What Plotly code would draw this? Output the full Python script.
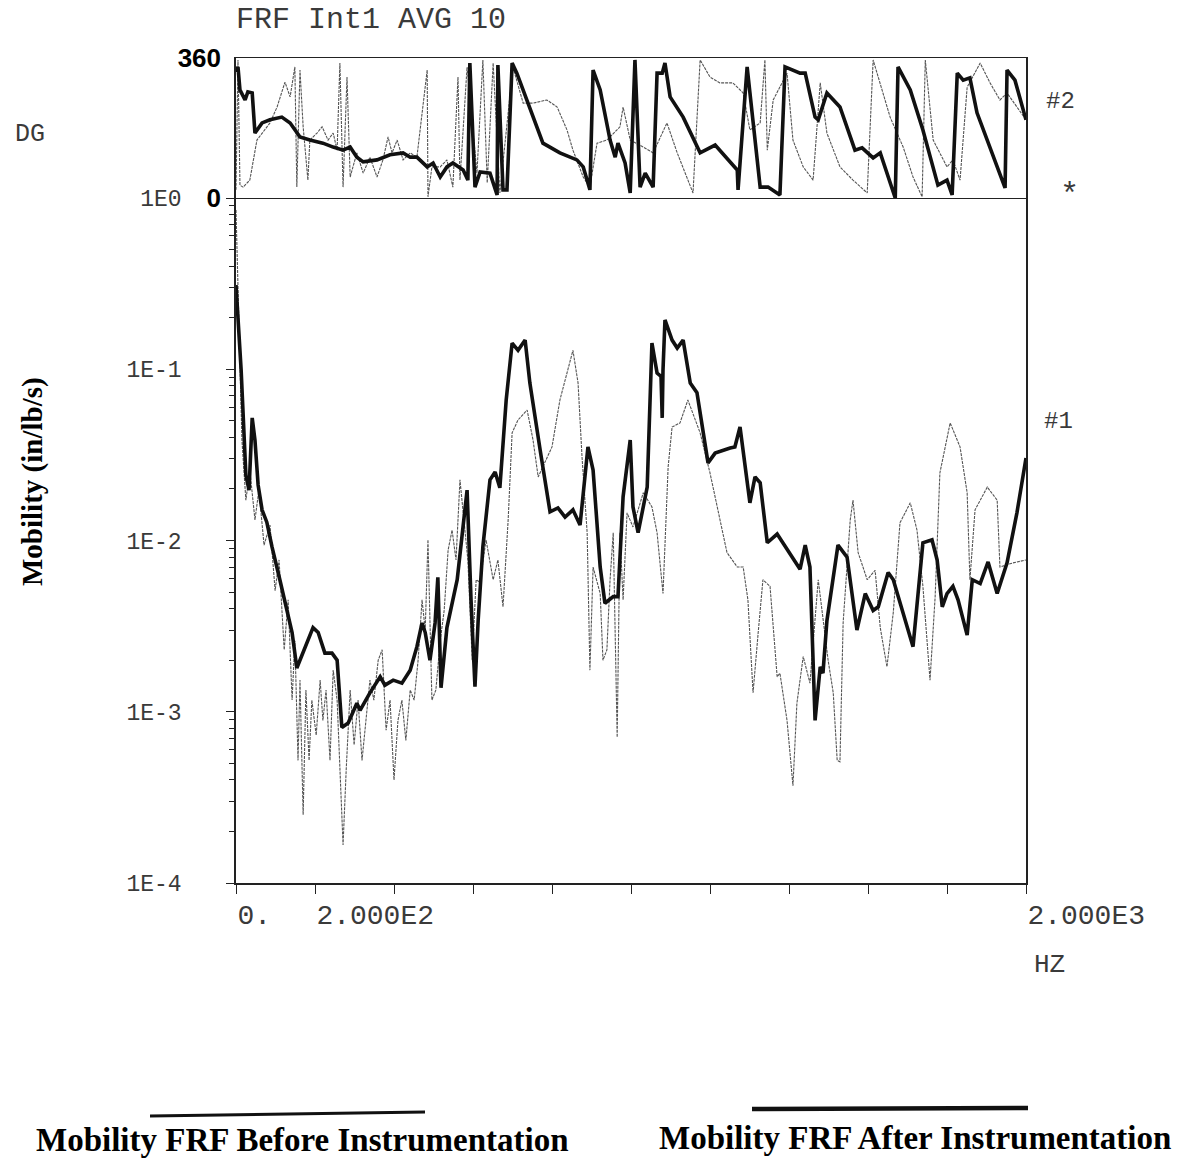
import plotly.graph_objects as go

# ---------------- data ----------------
# Magnitude, "After Instrumentation" (thick line)
after_mag_hz = [0, 13, 25, 33, 41, 48, 56, 66, 78, 91, 111, 129, 142, 154, 170, 195, 208, 225, 243, 256,
                268, 284, 306, 314, 339, 365, 377, 398, 420, 441, 458, 471, 479, 491, 504, 511, 519, 534, 560, 585,
                595, 605, 613, 625, 643, 656, 668, 684, 699, 714, 732, 744, 770, 795, 815, 833, 853, 871, 891, 904,
                922, 934, 955, 967, 980, 998, 1005, 1018, 1041, 1053, 1066, 1076, 1079, 1081, 1086, 1104, 1117, 1132, 1150, 1167,
                1195, 1213, 1251, 1263, 1276, 1301, 1314, 1327, 1345, 1370, 1428, 1441, 1453, 1466, 1479, 1486, 1496, 1524, 1547, 1572,
                1593, 1613, 1626, 1651, 1664, 1714, 1739, 1762, 1775, 1788, 1800, 1815, 1828, 1851, 1864, 1884, 1904, 1927, 1952, 1977,
                2000]
after_mag = [0.31, 0.099, 0.024, 0.0197, 0.052, 0.0386, 0.0211, 0.0151, 0.0128, 0.0092, 0.0059, 0.0038, 0.0029, 0.0018, 0.0022, 0.0031, 0.0029, 0.0022, 0.0022, 0.0020,
             0.00081, 0.00086, 0.00112, 0.00102, 0.00129, 0.0016, 0.00143, 0.00153, 0.00147, 0.00175, 0.0024, 0.0033, 0.0029, 0.0020, 0.0033, 0.0061, 0.00138, 0.0031, 0.0059, 0.0197,
             0.0045, 0.0014, 0.0034, 0.0092, 0.0226, 0.0251, 0.0203, 0.066, 0.142, 0.129, 0.148, 0.083, 0.0338, 0.0147, 0.0155, 0.0137, 0.0151, 0.0123, 0.0352, 0.0258,
             0.0070, 0.0043, 0.0047, 0.0047, 0.0180, 0.0386, 0.0157, 0.0111, 0.0205, 0.142, 0.095, 0.091, 0.052, 0.099, 0.194, 0.148, 0.133, 0.148, 0.083, 0.073,
             0.0284, 0.0324, 0.0347, 0.0352, 0.046, 0.0166, 0.0235, 0.0217, 0.0097, 0.0109, 0.0068, 0.0094, 0.0070, 0.00089, 0.00183, 0.00168, 0.0034, 0.0094, 0.0080, 0.0030,
             0.0049, 0.0039, 0.0041, 0.0065, 0.0059, 0.0024, 0.0097, 0.0101, 0.0077, 0.0041, 0.0049, 0.0054, 0.0045, 0.0028, 0.0059, 0.0056, 0.0075, 0.0049, 0.0074, 0.0145,
             0.0303]

# Magnitude, "Before Instrumentation" (thin line)
before_mag_hz = [0, 8, 15, 25, 35, 48, 58, 71, 86, 99, 109, 122, 132, 142, 149, 157, 162, 170, 177, 185,
                 192, 203, 213, 220, 228, 238, 246, 256, 263, 271, 279, 289, 299, 309, 319, 329, 339, 349, 360, 370,
                 380, 390, 400, 410, 420, 430, 441, 451, 461, 471, 479, 486, 496, 506, 517, 527, 537, 547, 557, 567,
                 577, 587, 598, 608, 618, 633, 651, 663, 676, 689, 699, 714, 737, 752, 765, 782, 800, 820, 841, 853,
                 866, 876, 889, 896, 904, 922, 929, 939, 947, 955, 965, 972, 980, 990, 1005, 1031, 1053, 1066, 1081, 1094,
                 1104, 1124, 1144, 1157, 1175, 1200, 1225, 1243, 1269, 1284, 1296, 1309, 1322, 1334, 1352, 1370, 1377, 1395, 1410, 1420,
                 1436, 1453, 1474, 1484, 1499, 1512, 1522, 1529, 1537, 1555, 1562, 1575, 1598, 1618, 1631, 1648, 1664, 1681, 1707, 1724,
                 1739, 1757, 1770, 1782, 1808, 1833, 1851, 1858, 1871, 1902, 1927, 1934, 1967, 2000]
before_mag = [0.85, 0.17, 0.0386, 0.0172, 0.0258, 0.0132, 0.0197, 0.0094, 0.0123, 0.0051, 0.0077, 0.0023, 0.0045, 0.00117, 0.0026, 0.00052, 0.00153, 0.00025, 0.00134, 0.00052,
              0.00117, 0.00073, 0.00153, 0.00089, 0.00134, 0.00052, 0.00175, 0.00117, 0.00052, 0.000167, 0.00046, 0.00134, 0.00064, 0.00117, 0.00052, 0.00089, 0.00153, 0.00117, 0.0020, 0.0023,
              0.00078, 0.00117, 0.00040, 0.00089, 0.00117, 0.00068, 0.00134, 0.00117, 0.0020, 0.0045, 0.0030, 0.0101, 0.00117, 0.00134, 0.0026, 0.0039, 0.0088, 0.0115, 0.0077, 0.0226,
              0.0132, 0.0077, 0.0020, 0.0059, 0.0057, 0.0101, 0.0059, 0.0077, 0.0041, 0.0132, 0.0425, 0.0506, 0.0578, 0.0386, 0.0235, 0.0284, 0.0352, 0.0661, 0.103, 0.129,
              0.083, 0.0307, 0.0111, 0.00175, 0.0070, 0.0049, 0.0020, 0.0023, 0.0059, 0.0111, 0.00071, 0.0111, 0.0045, 0.0145, 0.0120, 0.0190, 0.0157, 0.0111, 0.0049, 0.0269,
              0.046, 0.0486, 0.0661, 0.0555, 0.0425, 0.0248, 0.0132, 0.0085, 0.0070, 0.0070, 0.0045, 0.00129, 0.0029, 0.0059, 0.0054, 0.0016, 0.00168, 0.00089, 0.00037, 0.00112,
              0.0021, 0.00147, 0.0059, 0.0038, 0.0020, 0.00129, 0.00052, 0.00051, 0.0033, 0.0132, 0.0172, 0.0085, 0.0059, 0.0067, 0.0031, 0.00183, 0.0038, 0.0127, 0.0166, 0.0115,
              0.0054, 0.00153, 0.0047, 0.0248, 0.0486, 0.0352, 0.0190, 0.0059, 0.0151, 0.0205, 0.0172, 0.0070, 0.0074, 0.0077]

# Phase (degrees), "After Instrumentation" (thick line)
after_ph_hz = [0, 5, 10, 23, 30, 41, 48, 66, 86, 116, 137, 162, 187, 220, 246, 271, 289, 306, 322, 357,
               390, 423, 441, 458, 484, 499, 517, 534, 549, 575, 587, 592, 605, 618, 643, 661, 663, 676, 686, 699,
               711, 744, 777, 820, 863, 879, 896, 904, 922, 947, 960, 967, 985, 998, 1010, 1023, 1036, 1056, 1066, 1079,
               1086, 1099, 1132, 1175, 1213, 1269, 1271, 1294, 1327, 1347, 1377, 1390, 1428, 1441, 1466, 1474, 1496, 1529, 1567, 1585,
               1613, 1631, 1669, 1676, 1707, 1739, 1777, 1800, 1813, 1826, 1841, 1858, 1876, 1947, 1952, 1972, 2000]
after_ph = [324, 337, 278, 252, 273, 270, 167, 193, 201, 208, 193, 157, 149, 141, 131, 123, 131, 105, 93, 98,
            111, 116, 105, 105, 80, 90, 54, 80, 90, 72, 46, 347, 28, 67, 64, 8, 342, 21, 21, 347,
            321, 234, 141, 116, 98, 80, 21, 329, 278, 149, 105, 141, 90, 13, 355, 28, 64, 28, 321, 321,
            347, 260, 208, 116, 136, 72, 21, 337, 28, 28, 8, 337, 321, 321, 208, 201, 270, 234, 123, 129,
            103, 116, 0, 337, 278, 175, 33, 46, 8, 321, 303, 309, 219, 26, 329, 303, 201]

# Phase (degrees), "Before Instrumentation" (thin line)
before_ph_hz = [0, 5, 10, 18, 35, 53, 86, 104, 124, 137, 149, 154, 162, 170, 182, 187, 205, 218, 233, 246,
                256, 263, 271, 281, 289, 306, 322, 339, 357, 372, 385, 395, 408, 423, 441, 458, 484, 486, 496, 517,
                534, 549, 562, 567, 585, 610, 625, 636, 651, 668, 701, 727, 752, 787, 813, 838, 853, 879, 896, 914,
                939, 972, 980, 998, 1031, 1056, 1091, 1117, 1157, 1175, 1200, 1225, 1258, 1284, 1301, 1327, 1339, 1345, 1360, 1395,
                1410, 1436, 1461, 1479, 1496, 1529, 1562, 1598, 1613, 1656, 1689, 1714, 1737, 1745, 1765, 1800, 1815, 1833, 1851, 1884,
                1909, 1934, 1952, 1977, 2000]
before_ph = [21, 355, 33, 28, 46, 149, 193, 234, 298, 260, 337, 28, 329, 183, 46, 149, 167, 183, 149, 167,
             123, 347, 28, 311, 54, 116, 64, 105, 54, 98, 157, 116, 149, 98, 116, 105, 329, 3, 80, 80,
             98, 28, 311, 46, 337, 64, 355, 39, 347, 13, 337, 244, 244, 252, 234, 175, 123, 54, 28, 141,
             149, 183, 234, 149, 131, 116, 193, 116, 13, 355, 311, 296, 296, 270, 175, 193, 355, 123, 252, 321,
             149, 80, 46, 296, 167, 80, 46, 13, 355, 208, 131, 54, 3, 355, 149, 80, 98, 46, 285, 347,
             296, 252, 270, 234, 201]

mag_tick_vals = [1e-4, 1e-3, 1e-2, 1e-1, 1]
mag_tick_text = ["1E-4", "1E-3", "1E-2", "1E-1", "1E0"]
freq_tick_vals = [0, 200, 2000]
freq_tick_text = ["0.", "2.000E2", "2.000E3"]
phase_tick_vals = [0, 360]
phase_tick_text = ["<b>0</b>", "<b>360</b>"]

# ---------------- styling ----------------
PLOT_FONT = "Liberation Mono, DejaVu Sans Mono, monospace"
TXT = "#3a3a3a"
thick = dict(color="#111111", width=3.6)
thin = dict(color="#555555", width=1.1, dash="3px,1px")

fig = go.Figure()
fig.add_trace(go.Scatter(x=before_mag_hz, y=before_mag, mode="lines", line=thin,
                         xaxis="x", yaxis="y", name="Before", showlegend=False))
fig.add_trace(go.Scatter(x=after_mag_hz, y=after_mag, mode="lines", line=thick,
                         xaxis="x", yaxis="y", name="After", showlegend=False))
fig.add_trace(go.Scatter(x=before_ph_hz, y=before_ph, mode="lines", line=thin,
                         xaxis="x2", yaxis="y2", showlegend=False))
fig.add_trace(go.Scatter(x=after_ph_hz, y=after_ph, mode="lines", line=thick,
                         xaxis="x2", yaxis="y2", showlegend=False))

split = 0.8303
fig.update_layout(
    width=1177, height=1162,
    margin=dict(l=236, r=151, t=58, b=279),
    paper_bgcolor="white", plot_bgcolor="white",
    showlegend=False,
    xaxis=dict(domain=[0, 1], anchor="y", range=[0, 2000],
               showgrid=False, zeroline=False, showline=True, linecolor="#222", linewidth=1.5,
               mirror=False, ticks="outside", ticklen=9, tickcolor="#222", tickwidth=1.3,
               tickmode="array", tickvals=freq_tick_vals, ticktext=freq_tick_text,
               ticklabelposition="outside right", tickangle=0, ticklabelstandoff=6,
               minor=dict(dtick=200, ticks="outside", ticklen=9, tickcolor="#222", tickwidth=1.3, showgrid=False),
               tickfont=dict(family=PLOT_FONT, size=28, color=TXT)),
    yaxis=dict(domain=[0, split], anchor="x", type="log", range=[-4, 0],
               showgrid=False, zeroline=False, showline=True, linecolor="#222", linewidth=1.5,
               mirror=True, ticks="outside", ticklen=8, tickcolor="#222", tickwidth=1.3,
               tickmode="array", tickvals=mag_tick_vals, ticktext=mag_tick_text,
               ticklabelstandoff=40,
               minor=dict(dtick="D1", ticks="outside", ticklen=5, tickcolor="#222", tickwidth=1.2, showgrid=False),
               tickfont=dict(family=PLOT_FONT, size=23, color=TXT)),
    xaxis2=dict(domain=[0, 1], anchor="y2", range=[0, 2000], matches="x",
                showgrid=False, zeroline=False, showline=True, linecolor="#222", linewidth=1.3,
                mirror=True, ticks="", showticklabels=False),
    yaxis2=dict(domain=[split, 1], anchor="x2", range=[0, 360],
                showgrid=False, zeroline=False, showline=True, linecolor="#222", linewidth=1.5,
                mirror=True, ticks="", tickmode="array", tickvals=phase_tick_vals, ticktext=phase_tick_text,
                ticklabelstandoff=8,
                tickfont=dict(family="Liberation Sans Narrow, Liberation Sans, Arial", size=26, color="#000")),
)

def px_x(px):
    return (px - 236) / 790.0

def px_y(py):
    return (883 - py) / 825.0

annots = [
    dict(text="FRF Int1 AVG 10", x=px_x(371), y=px_y(20), size=30, family=PLOT_FONT, color=TXT),
    dict(text="DG", x=px_x(30), y=px_y(134), size=25, family=PLOT_FONT, color=TXT),
    dict(text="#2", x=px_x(1060), y=px_y(101), size=24, family=PLOT_FONT, color=TXT),
    dict(text="*", x=px_x(1069), y=px_y(196), size=32, family=PLOT_FONT, color=TXT),
    dict(text="#1", x=px_x(1058), y=px_y(422), size=24, family=PLOT_FONT, color=TXT),
    dict(text="HZ", x=px_x(1049), y=px_y(965), size=26, family=PLOT_FONT, color=TXT),
    dict(text="<b>Mobility FRF Before Instrumentation</b>", x=px_x(302), y=px_y(1140), size=33,
         family="Liberation Serif, Times New Roman, serif", color="#000"),
    dict(text="<b>Mobility FRF After Instrumentation</b>", x=px_x(915), y=px_y(1138), size=33,
         family="Liberation Serif, Times New Roman, serif", color="#000"),
]
for a in annots:
    fig.add_annotation(text=a["text"], x=a["x"], y=a["y"], xref="paper", yref="paper",
                       showarrow=False, xanchor="center", yanchor="middle",
                       font=dict(family=a["family"], size=a["size"], color=a["color"]))

fig.add_annotation(text="<b>Mobility (in/lb/s)</b>", x=px_x(32), y=px_y(482), xref="paper", yref="paper",
                   showarrow=False, textangle=-90, xanchor="center", yanchor="middle",
                   font=dict(family="Liberation Serif, Times New Roman, serif", size=29, color="#000"))

# legend sample lines under the chart
fig.add_shape(type="line", xref="paper", yref="paper",
              x0=px_x(150), y0=px_y(1116), x1=px_x(425), y1=px_y(1112),
              line=dict(color="#111", width=3))
fig.add_shape(type="line", xref="paper", yref="paper",
              x0=px_x(752), y0=px_y(1109), x1=px_x(1028), y1=px_y(1108),
              line=dict(color="#111", width=4.5))

fig.write_html("out.html")
